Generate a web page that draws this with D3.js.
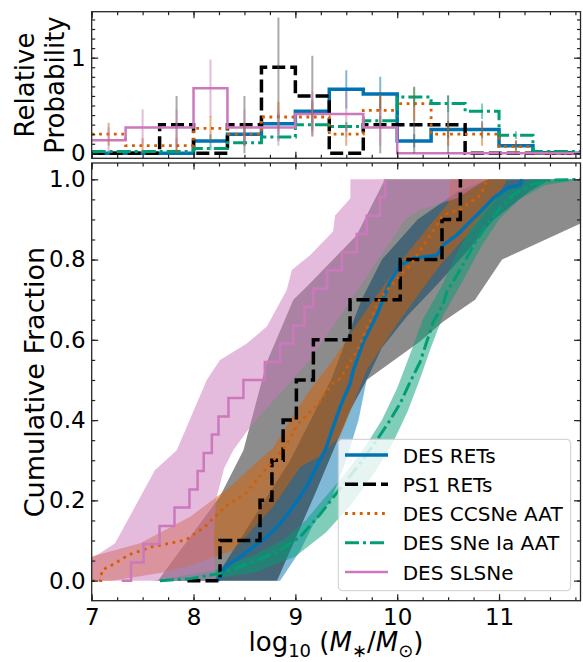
<!DOCTYPE html>
<html>
<head>
<meta charset="utf-8">
<script src="https://cdn.jsdelivr.net/npm/d3@7"></script>
<style>
  body { margin: 0; background: #fff; }
  svg { display: block; font-family: "DejaVu Sans", sans-serif; }
</style>
</head>
<body>
<svg id="chart" width="583" height="662"></svg>
<script>
// ---- histogram (top panel), bins of 1/3 dex ----
const binEdges = [7.0, 7.333, 7.667, 8.0, 8.333, 8.667, 9.0, 9.333, 9.667, 10.0, 10.333, 10.667, 11.0, 11.333, 11.667, 12.0];

const histRET = [0, 0, 0, 0.13, 0.2, 0.31, 0.44, 0.67, 0.62, 0.13, 0.25, 0.25, 0.08, 0, 0];
const errRET  = [0, 0, 0, 0.07, 0.08, 0.11, 0.12, 0.2, 0.18, 0.07, 0.09, 0.09, 0.05, 0, 0];
const histPS1 = [0, 0, 0.3, 0, 0.3, 0.9, 0.6, 0, 0.3, 0.3, 0.3, 0, 0, 0, 0];
const errPS1  = [0, 0, 0.3, 0, 0.3, 0.52, 0.42, 0, 0.3, 0.3, 0.3, 0, 0, 0, 0];
const histCC  = [0.2, 0.08, 0.08, 0.26, 0.2, 0.38, 0.38, 0.2, 0.45, 0.52, 0.2, 0.2, 0.07, 0, 0];
const errCC   = [0.12, 0.08, 0.08, 0.13, 0.12, 0.16, 0.16, 0.12, 0.17, 0.18, 0.12, 0.12, 0.07, 0, 0];
const histIa  = [0.02, 0.02, 0.02, 0.05, 0.11, 0.17, 0.3, 0.28, 0.34, 0.59, 0.52, 0.44, 0.19, 0.02, 0.02];
const errIa   = [0.01, 0.01, 0.01, 0.02, 0.03, 0.04, 0.05, 0.05, 0.05, 0.1, 0.09, 0.08, 0.04, 0.015, 0.01];
const histSL  = [0.136, 0.27, 0.27, 0.68, 0.27, 0.27, 0.41, 0.41, 0.27, 0, 0, 0, 0, 0, 0];
const errSL   = [0.136, 0.19, 0.19, 0.3, 0.19, 0.19, 0.24, 0.24, 0.19, 0, 0, 0, 0, 0, 0];

// ---- cumulative fractions (main panel) ----
const retX = [8.24, 8.31, 8.457, 8.588, 8.72, 8.85, 8.98, 9.11, 9.21, 9.30, 9.36, 9.44, 9.537, 9.57, 9.668, 9.80, 9.864, 9.93, 10.03, 10.16, 10.39, 10.45, 10.585, 10.716, 10.85, 10.945, 11.077, 11.207, 11.224];
const retY = [0, 0.034, 0.059, 0.084, 0.109, 0.142, 0.184, 0.234, 0.284, 0.33, 0.375, 0.433, 0.49, 0.525, 0.595, 0.662, 0.703, 0.745, 0.786, 0.803, 0.811, 0.836, 0.861, 0.894, 0.928, 0.953, 0.978, 0.986, 1.0];

const ps1X = [7.94, 8.26, 8.653, 8.77, 8.88, 9.01, 9.177, 9.537, 10.03, 10.44, 10.62];
const ps1Y = [0, 0.1, 0.2, 0.3, 0.4, 0.5, 0.6, 0.7, 0.8, 0.9, 1.0];

const ccX = [7.0, 7.09, 7.1, 7.23, 7.36, 7.59, 7.92, 8.11, 8.31, 8.51, 8.70, 8.90, 9.03, 9.23, 9.36, 9.44, 9.60, 9.73, 9.83, 10.0, 10.13, 10.26, 10.39, 10.45, 10.62, 10.82, 10.88];
const ccY = [0, 0, 0.026, 0.043, 0.064, 0.084, 0.101, 0.134, 0.184, 0.217, 0.275, 0.334, 0.392, 0.442, 0.49, 0.504, 0.57, 0.645, 0.703, 0.753, 0.786, 0.836, 0.886, 0.911, 0.925, 0.961, 1.0];

const iaX = [7.67, 7.97, 8.26, 8.555, 8.85, 9.046, 9.243, 9.44, 9.636, 9.80, 9.93, 10.03, 10.127, 10.225, 10.29, 10.355, 10.45, 10.487, 10.62, 10.75, 10.88, 11.01, 11.14, 11.305, 11.53, 11.8];
const iaY = [0, 0.005, 0.018, 0.043, 0.076, 0.109, 0.165, 0.23, 0.292, 0.35, 0.40, 0.442, 0.495, 0.545, 0.595, 0.645, 0.687, 0.72, 0.775, 0.836, 0.886, 0.928, 0.961, 0.986, 0.998, 1.0];

const slX = [7.295, 7.386, 7.51, 7.666, 7.813, 7.96, 8.04, 8.10, 8.18, 8.245, 8.343, 8.49, 8.70, 8.85, 8.98, 9.09, 9.177, 9.31, 9.456, 9.603, 9.70, 9.83, 9.88];
const slY = [0, 0.045, 0.091, 0.136, 0.182, 0.227, 0.273, 0.318, 0.364, 0.409, 0.455, 0.5, 0.545, 0.591, 0.636, 0.682, 0.727, 0.773, 0.818, 0.864, 0.909, 0.955, 1.0];

// ---- uncertainty bands: left and right edges as [mass, fraction] ----
const retBandLeft  = [[8.2, 0], [8.45, 0.1], [8.7, 0.2], [8.95, 0.3], [9.15, 0.4], [9.35, 0.5], [9.5, 0.6], [9.65, 0.7], [9.85, 0.8], [10.2, 0.9], [10.6, 0.97], [10.9, 1.0]];
const retBandRight = [[8.85, 0], [9.05, 0.076], [9.18, 0.142], [9.35, 0.2], [9.5, 0.3], [9.62, 0.4], [9.7, 0.5], [9.85, 0.58], [10.1, 0.66], [10.4, 0.74], [10.65, 0.81], [10.95, 0.9], [11.3, 0.97], [11.5, 1.0]];

const ps1BandLeft  = [[7.65, 0], [8.26, 0.21], [8.49, 0.325], [8.72, 0.545], [8.98, 0.70], [9.14, 0.74], [9.6, 0.86], [9.88, 1.0]];
const ps1BandRight = [[8.82, 0], [9.2, 0.22], [9.54, 0.425], [9.70, 0.50], [10.22, 0.595], [10.45, 0.645], [10.765, 0.70], [11.03, 0.80], [11.8, 0.89], [11.8, 1.0]];

const ccBandLeft  = [[6.9, 0], [7.0, 0.06], [7.475, 0.093], [7.966, 0.159], [8.36, 0.234], [8.6, 0.29], [8.78, 0.33], [9.0, 0.42], [9.144, 0.475], [9.37, 0.55], [9.73, 0.687], [10.06, 0.803], [10.32, 0.886], [10.5, 0.94], [10.52, 1.0]];
const ccBandRight = [[7.2, 0], [7.7, 0.02], [8.0, 0.04], [8.39, 0.076], [8.78, 0.184], [9.05, 0.284], [9.24, 0.31], [9.44, 0.36], [9.57, 0.44], [9.70, 0.525], [10.0, 0.64], [10.42, 0.786], [10.72, 0.87], [10.98, 0.953], [11.08, 1.0]];

const iaBandLeft  = [[7.6, 0], [8.2, 0.025], [8.6, 0.065], [8.9, 0.105], [9.1, 0.15], [9.3, 0.21], [9.5, 0.27], [9.7, 0.34], [9.85, 0.40], [10.0, 0.48], [10.12, 0.56], [10.25, 0.65], [10.45, 0.74], [10.55, 0.8], [10.7, 0.87], [10.9, 0.94], [11.1, 0.98], [11.3, 1.0]];
const iaBandRight = [[8.1, 0], [8.6, 0.02], [9.0, 0.06], [9.3, 0.12], [9.55, 0.19], [9.78, 0.27], [9.95, 0.34], [10.1, 0.42], [10.22, 0.5], [10.33, 0.58], [10.45, 0.66], [10.65, 0.75], [10.82, 0.83], [11.0, 0.9], [11.2, 0.95], [11.45, 0.985], [11.8, 1.0]];

const slBandLeft  = [[6.8, 0], [7.0, 0.055], [7.23, 0.093], [7.62, 0.275], [7.835, 0.325], [8.13, 0.50], [8.26, 0.55], [8.52, 0.59], [8.72, 0.633], [8.915, 0.724], [8.965, 0.774], [9.144, 0.811], [9.37, 0.87], [9.39, 0.91], [9.54, 0.953], [9.54, 1.0]];
const slBandRight = [[8.22, 0], [8.2, 0.1], [8.22, 0.2], [8.3, 0.28], [8.39, 0.325], [8.555, 0.383], [9.144, 0.55], [9.6, 0.72], [10.09, 0.903], [10.22, 0.923], [10.585, 0.953], [10.88, 1.0]];

const xTicks = [7, 8, 9, 10, 11];
const yMainTicks = [0, 0.2, 0.4, 0.6, 0.8, 1.0];
const yTopTicks = [0, 1];
const legendLabels = ["DES RETs", "PS1 RETs", "DES CCSNe AAT", "DES SNe Ia AAT", "DES SLSNe"];

// ---- styles per sample, built from the arrays above ----
const samples = [
    {hist: histRET, err: errRET, cx: retX, cy: retY, left: retBandLeft, right: retBandRight, color: "#0173B2", band: "#0173B2", bandOpacity: 0.5, width: 3.5, dash: null, step: false, errColor: "#0173B2"},
    {hist: histPS1, err: errPS1, cx: ps1X, cy: ps1Y, left: ps1BandLeft, right: ps1BandRight, color: "#000000", band: "#000000", bandOpacity: 0.45, width: 3.5, dash: "13,5", step: true, errColor: "#555555"},
    {hist: histCC, err: errCC, cx: ccX, cy: ccY, left: ccBandLeft, right: ccBandRight, color: "#D55E00", band: "#D55E00", bandOpacity: 0.5, width: 2.8, dash: "2.8,4.6", step: false, errColor: "#D55E00"},
    {hist: histIa, err: errIa, cx: iaX, cy: iaY, left: iaBandLeft, right: iaBandRight, color: "#029E73", band: "#029E73", bandOpacity: 0.5, width: 3, dash: "14,4,3,4", step: false, errColor: "#029E73"},
    {hist: histSL, err: errSL, cx: slX, cy: slY, left: slBandLeft, right: slBandRight, color: "#CC78BC", band: "#CC78BC", bandOpacity: 0.5, width: 2.5, dash: null, step: true, errColor: "#CC78BC"}
];

const svg = d3.select("#chart");
const plotLeft = 91.7, plotRight = 580.5;

const x = d3.scaleLinear().domain([7, 11.8]).range([plotLeft, plotRight]);
const yTop = d3.scaleLinear().domain([-0.052, 1.481]).range([158.3, 11.7]);
const yMain = d3.scaleLinear().domain([-0.05, 1.0406]).range([600.7, 163]);

const defs = svg.append("defs");
defs.append("clipPath").attr("id", "clipTop").append("rect")
    .attr("x", plotLeft).attr("y", yTop.range()[1]).attr("width", plotRight - plotLeft).attr("height", yTop.range()[0] - yTop.range()[1]);
defs.append("clipPath").attr("id", "clipMain").append("rect")
    .attr("x", plotLeft).attr("y", yMain.range()[1]).attr("width", plotRight - plotLeft).attr("height", yMain.range()[0] - yMain.range()[1]);

// ---- top panel ----
const topPanel = svg.append("g").attr("clip-path", "url(#clipTop)");
const histLine = d3.line().x(d => x(d[0])).y(d => yTop(d[1])).curve(d3.curveStepAfter);

samples.forEach(s => {
    const pts = s.hist.map((v, i) => [binEdges[i], v]);
    pts.push([binEdges[binEdges.length - 1], s.hist[s.hist.length - 1]]);
    topPanel.append("path")
        .attr("d", histLine(pts))
        .attr("fill", "none")
        .attr("stroke", s.color)
        .attr("stroke-width", s.width)
        .attr("stroke-dasharray", s.dash);
});

samples.forEach(s => {
    s.hist.forEach((v, i) => {
        if (s.err[i] <= 0) return;
        const c = (binEdges[i] + binEdges[i + 1]) / 2;
        topPanel.append("line")
            .attr("x1", x(c)).attr("x2", x(c))
            .attr("y1", yTop(v - s.err[i])).attr("y2", yTop(v + s.err[i]))
            .attr("stroke", s.errColor)
            .attr("stroke-opacity", 0.5)
            .attr("stroke-width", 2);
    });
});

// ---- main panel ----
const mainPanel = svg.append("g").attr("clip-path", "url(#clipMain)");
const bandLine = d3.line().x(d => x(d[0])).y(d => yMain(d[1]));

samples.forEach(s => {
    const poly = s.left.concat(s.right.slice().reverse());
    mainPanel.append("path")
        .attr("d", bandLine(poly) + "Z")
        .attr("fill", s.band)
        .attr("fill-opacity", s.bandOpacity)
        .attr("stroke", "none");
});

samples.forEach(s => {
    const line = d3.line().x(d => x(d[0])).y(d => yMain(d[1]))
        .curve(s.step ? d3.curveStepAfter : d3.curveLinear);
    mainPanel.append("path")
        .attr("d", line(s.cx.map((v, i) => [v, s.cy[i]])))
        .attr("fill", "none")
        .attr("stroke", s.color)
        .attr("stroke-width", s.width)
        .attr("stroke-dasharray", s.dash);
});

// ---- axes: inward ticks on all sides ----
function drawAxes(yScale, yMajor, yMinor, yFmt, showX) {
    const y0 = yScale.range()[0], y1 = yScale.range()[1];
    const xMinor = d3.range(7, 11.81, 0.25);
    const fontSize = 23;

    const bottom = svg.append("g").attr("transform", `translate(0,${y0})`);
    bottom.call(d3.axisBottom(x).tickValues(xMinor).tickSize(-3.5).tickFormat(""));
    bottom.append("g").call(d3.axisBottom(x).tickValues(xTicks).tickSize(-6.5).tickPadding(8)
        .tickFormat(showX ? d3.format("d") : ""));

    const topAx = svg.append("g").attr("transform", `translate(0,${y1})`);
    topAx.call(d3.axisTop(x).tickValues(xMinor).tickSize(-3.5).tickFormat(""));
    topAx.append("g").call(d3.axisTop(x).tickValues(xTicks).tickSize(-6.5).tickFormat(""));

    const leftAx = svg.append("g").attr("transform", `translate(${plotLeft},0)`);
    leftAx.call(d3.axisLeft(yScale).tickValues(yMinor).tickSize(-3.5).tickFormat(""));
    leftAx.append("g").call(d3.axisLeft(yScale).tickValues(yMajor).tickSize(-6.5).tickPadding(6).tickFormat(yFmt));

    const rightAx = svg.append("g").attr("transform", `translate(${plotRight},0)`);
    rightAx.call(d3.axisRight(yScale).tickValues(yMinor).tickSize(-3.5).tickFormat(""));
    rightAx.append("g").call(d3.axisRight(yScale).tickValues(yMajor).tickSize(-6.5).tickFormat(""));

    svg.selectAll(".domain").remove();
    svg.selectAll(".tick line").attr("stroke", "#222").attr("stroke-width", 1.2);
    svg.selectAll(".tick text").attr("font-family", "DejaVu Sans").attr("font-size", fontSize).attr("fill", "#000");

    svg.append("rect")
        .attr("x", plotLeft).attr("y", y1)
        .attr("width", plotRight - plotLeft).attr("height", y0 - y1)
        .attr("fill", "none").attr("stroke", "#262626").attr("stroke-width", 1.3);
}

drawAxes(yTop, yTopTicks, d3.range(0, 1.45, 0.1), d3.format("d"), false);
drawAxes(yMain, yMainTicks, d3.range(0, 1.01, 0.05), d3.format(".1f"), true);

// ---- legend ----
const legend = svg.append("g");
legend.append("rect")
    .attr("x", 338.3).attr("y", 439.3)
    .attr("width", 232.4).attr("height", 151.4)
    .attr("rx", 4)
    .attr("fill", "#fff").attr("fill-opacity", 0.8)
    .attr("stroke", "#cccccc").attr("stroke-width", 1);

const legendY = d3.scalePoint().domain(legendLabels).range([455, 572]);
samples.forEach((s, i) => {
    const yy = legendY(legendLabels[i]);
    legend.append("line")
        .attr("x1", 345).attr("x2", 388)
        .attr("y1", yy).attr("y2", yy)
        .attr("stroke", s.color)
        .attr("stroke-width", s.width)
        .attr("stroke-dasharray", s.dash);
    legend.append("text")
        .attr("x", 402.7).attr("y", yy + 7.5)
        .attr("font-size", 20)
        .text(legendLabels[i]);
});

// ---- axis labels ----
svg.append("text")
    .attr("transform", "translate(44,382) rotate(-90)")
    .attr("text-anchor", "middle")
    .attr("font-size", 27)
    .text("Cumulative Fraction");

const relLabel = svg.append("text")
    .attr("transform", "translate(34,85) rotate(-90)")
    .attr("text-anchor", "middle")
    .attr("font-size", 26);
relLabel.append("tspan").attr("x", 0).attr("dy", 0).text("Relative");
relLabel.append("tspan").attr("x", 0).attr("dy", 30).text("Probability");

const xLabel = svg.append("text")
    .attr("x", 336).attr("y", 651)
    .attr("text-anchor", "middle")
    .attr("font-size", 26);
xLabel.append("tspan").text("log");
xLabel.append("tspan").attr("font-size", 18).attr("dy", 6).text("10");
xLabel.append("tspan").attr("dy", -6).text(" (");
xLabel.append("tspan").attr("font-style", "italic").text("M");
xLabel.append("tspan").attr("font-size", 18).attr("dy", 6).text("∗");
xLabel.append("tspan").attr("dy", -6).text("/");
xLabel.append("tspan").attr("font-style", "italic").text("M");
xLabel.append("tspan").attr("font-size", 18).attr("dy", 6).text("⊙");
xLabel.append("tspan").attr("dy", -6).text(")");
</script>
</body>
</html>
